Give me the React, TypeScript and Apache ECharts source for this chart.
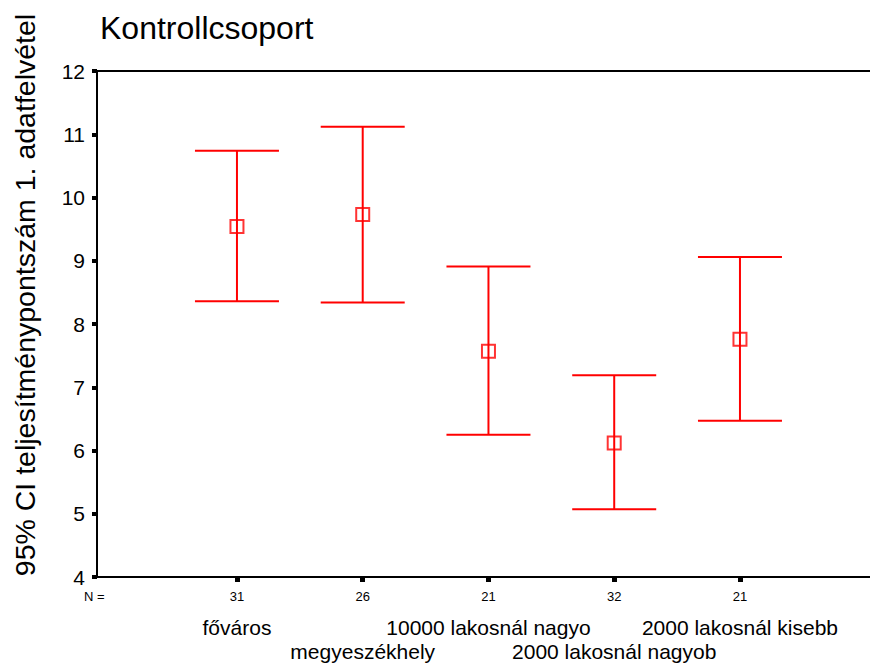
import React, { useEffect, useRef } from "react";
import * as echarts from "echarts";

const categories = [
  "főváros",
  "megyeszékhely",
  "10000 lakosnál nagyo",
  "2000 lakosnál nagyob",
  "2000 lakosnál kisebb",
];
const nValues = [31, 26, 21, 32, 21];
const means = [9.54, 9.73, 7.57, 6.12, 7.76];
const lowers = [8.36, 8.34, 6.25, 5.07, 6.47];
const uppers = [10.74, 11.12, 8.91, 7.19, 9.06];
const positions = [1, 2, 3, 4, 5];
const row1Positions = [1, 3, 5];
const row2Positions = [2, 4];

const RED = "#ff0000";
const FONT = "Liberation Sans, Arial, sans-serif";
const X_MIN = -0.113;
const X_MAX = 7.044;

export default function App() {
  const ref = useRef<HTMLDivElement>(null);
  useEffect(() => {
    if (!ref.current) return;
    const chart = echarts.init(ref.current, null, { renderer: "svg" });
    const errData = positions.map((p, i) => [p, lowers[i], uppers[i]]);
    const meanData = positions.map((p, i) => [p, means[i]]);
    const labelAxis = (customValues: number[], margin: number) => ({
      type: "value",
      position: "bottom",
      min: X_MIN,
      max: X_MAX,
      splitLine: { show: false },
      axisLine: { show: false, onZero: false },
      axisTick: { show: false },
      axisLabel: {
        show: true,
        customValues,
        margin,
        fontSize: 21,
        color: "#000",
        fontFamily: FONT,
        hideOverlap: false,
        formatter: (v: number) => categories[Math.round(v) - 1],
      },
    });
    chart.setOption({
      animation: false,
      backgroundColor: "#fff",
      textStyle: { fontFamily: FONT },
      title: {
        text: "Kontrollcsoport",
        left: 95,
        top: 7,
        textStyle: { fontFamily: FONT, fontSize: 32, fontWeight: "normal", color: "#000" },
      },
      grid: {
        left: 97,
        width: 900,
        top: 71,
        height: 506,
        show: false,
        outerBoundsMode: "none",
      },
      xAxis: [
        {
          type: "value",
          min: X_MIN,
          max: X_MAX,
          splitLine: { show: false },
          axisLine: { show: true, onZero: false, lineStyle: { color: "#000", width: 2 } },
          axisTick: {
            show: true,
            customValues: positions,
            length: 5,
            lineStyle: { color: "#000", width: 5 },
          },
          axisLabel: {
            show: true,
            customValues: positions,
            margin: 13,
            fontSize: 13,
            color: "#000",
            fontFamily: FONT,
            hideOverlap: false,
            formatter: (v: number) => String(nValues[Math.round(v) - 1]),
          },
        },
        labelAxis(row1Positions, 40),
        labelAxis(row2Positions, 64),
        {
          type: "value",
          position: "top",
          min: X_MIN,
          max: X_MAX,
          splitLine: { show: false },
          axisLine: { show: true, onZero: false, lineStyle: { color: "#000", width: 2 } },
          axisTick: { show: false },
          axisLabel: { show: false },
        },
      ],
      yAxis: {
        type: "value",
        min: 4,
        max: 12,
        interval: 1,
        name: "95% CI teljesítménypontszám 1. adatfelvétel",
        nameLocation: "middle",
        nameGap: 58,
        nameRotate: 90,
        nameTextStyle: {
          fontSize: 28.5,
          color: "#000",
          fontFamily: FONT,
          padding: [0, 0, 0, 58],
        },
        splitLine: { show: false },
        axisLine: { show: true, onZero: false, lineStyle: { color: "#000", width: 2 } },
        axisTick: { show: true, length: 5, lineStyle: { color: "#000", width: 4 } },
        axisLabel: { margin: 12, fontSize: 21, color: "#000", fontFamily: FONT },
      },
      graphic: [
        {
          type: "text",
          left: 84,
          top: 590,
          style: { text: "N =", fontSize: 13, fill: "#000", fontFamily: FONT },
        },
      ],
      series: [
        {
          type: "custom",
          xAxisIndex: 0,
          data: errData,
          renderItem: (params: any, api: any) => {
            const x = api.value(0);
            const lo = api.coord([x, api.value(1)]);
            const hi = api.coord([x, api.value(2)]);
            const hw = 42;
            const style = { stroke: RED, lineWidth: 2 };
            return {
              type: "group",
              children: [
                { type: "line", shape: { x1: lo[0], y1: lo[1], x2: hi[0], y2: hi[1] }, style },
                { type: "line", shape: { x1: hi[0] - hw, y1: hi[1], x2: hi[0] + hw, y2: hi[1] }, style },
                { type: "line", shape: { x1: lo[0] - hw, y1: lo[1], x2: lo[0] + hw, y2: lo[1] }, style },
              ],
            };
          },
        },
        {
          type: "scatter",
          xAxisIndex: 0,
          data: meanData,
          symbol: "rect",
          symbolSize: 13,
          itemStyle: { color: "rgba(0,0,0,0)", borderColor: RED, borderWidth: 2 },
        },
      ],
    });
    return () => chart.dispose();
  }, []);
  return <div ref={ref} style={{ width: 870, height: 670, position: "absolute", left: 0, top: 0 }} />;
}
